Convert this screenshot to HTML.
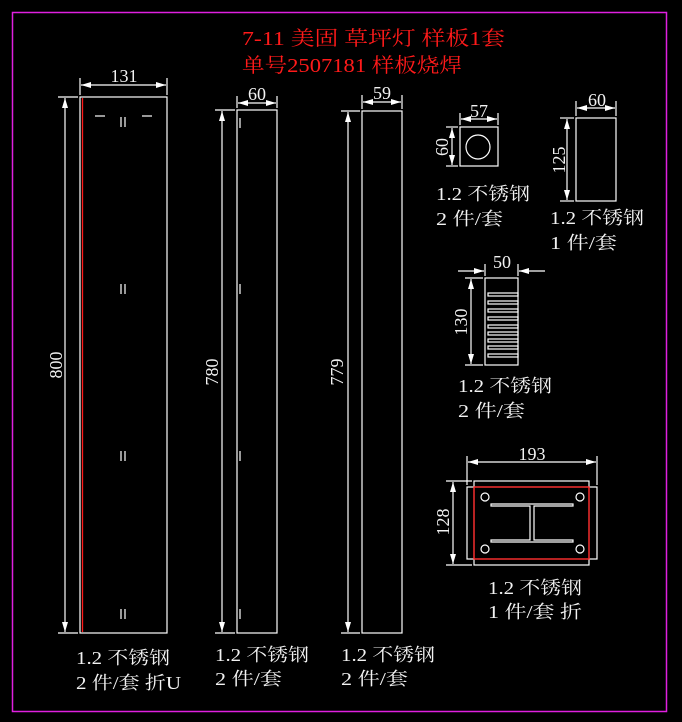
<!DOCTYPE html>
<html><head><meta charset="utf-8"><style>
html,body{margin:0;padding:0;background:#000;}
svg{display:block}
text{font-family:"Liberation Serif","Noto Serif CJK SC",serif;fill:#f2f2f2;font-size:18px}
.r{fill:#ff1a1a;font-size:20px}
</style></head><body>
<svg width="682" height="722" viewBox="0 0 682 722" xmlns="http://www.w3.org/2000/svg">
<defs>
<marker id="a" viewBox="0 0 10 6" refX="10" refY="3" markerWidth="10" markerHeight="6" orient="auto-start-reverse" markerUnits="userSpaceOnUse"><path d="M0,0 L10,3 L0,6z" fill="#fff"/></marker>
</defs>
<rect x="12.5" y="12.5" width="654" height="699" fill="none" stroke="#e020e0" stroke-width="1.5"/>
<text class="r" x="242" y="45" textLength="263" lengthAdjust="spacingAndGlyphs">7-11 美固 草坪灯 样板1套</text>
<text class="r" x="242" y="72" textLength="220" lengthAdjust="spacingAndGlyphs">单号2507181 样板烧焊</text>
<g stroke="#fff" stroke-width="1.2" fill="none">
<rect x="80" y="97" width="87" height="536"/>
<line x1="80" y1="78" x2="80" y2="95"/><line x1="167" y1="78" x2="167" y2="95"/>
<line x1="81" y1="85" x2="166" y2="85" marker-start="url(#a)" marker-end="url(#a)"/>
<line x1="58" y1="97" x2="78" y2="97"/><line x1="58" y1="633" x2="78" y2="633"/>
<line x1="65" y1="98" x2="65" y2="632" marker-start="url(#a)" marker-end="url(#a)"/>
<line x1="95" y1="116" x2="105" y2="116"/><line x1="142" y1="116" x2="152" y2="116"/>
<path d="M121 117v10M125 117v10M121 284v10M125 284v10M121 451v10M125 451v10M121 609v10M125 609v10"/>
<rect x="237" y="110" width="40" height="523"/>
<line x1="237" y1="96" x2="237" y2="108"/><line x1="277" y1="96" x2="277" y2="108"/>
<line x1="238" y1="103" x2="276" y2="103" marker-start="url(#a)" marker-end="url(#a)"/>
<line x1="215" y1="110" x2="235" y2="110"/><line x1="215" y1="633" x2="235" y2="633"/>
<line x1="222" y1="111" x2="222" y2="632" marker-start="url(#a)" marker-end="url(#a)"/>
<path d="M240 118v10M240 284v10M240 451v10M240 609v10"/>
<rect x="362" y="111" width="40" height="522"/>
<line x1="362" y1="95" x2="362" y2="109"/><line x1="402" y1="95" x2="402" y2="109"/>
<line x1="363" y1="102" x2="401" y2="102" marker-start="url(#a)" marker-end="url(#a)"/>
<line x1="341" y1="111" x2="360" y2="111"/><line x1="341" y1="633" x2="360" y2="633"/>
<line x1="348" y1="112" x2="348" y2="632" marker-start="url(#a)" marker-end="url(#a)"/>
<rect x="460" y="127" width="38" height="39"/>
<circle cx="478" cy="147" r="12"/>
<line x1="460" y1="113" x2="460" y2="125"/><line x1="498" y1="113" x2="498" y2="125"/>
<line x1="461" y1="119" x2="497" y2="119" marker-start="url(#a)" marker-end="url(#a)"/>
<line x1="446" y1="127" x2="458" y2="127"/><line x1="446" y1="166" x2="458" y2="166"/>
<line x1="452" y1="128" x2="452" y2="165" marker-start="url(#a)" marker-end="url(#a)"/>
<rect x="576" y="118" width="40" height="83"/>
<line x1="576" y1="101" x2="576" y2="116"/><line x1="616" y1="101" x2="616" y2="116"/>
<line x1="577" y1="108" x2="615" y2="108" marker-start="url(#a)" marker-end="url(#a)"/>
<line x1="560" y1="118" x2="574" y2="118"/><line x1="560" y1="201" x2="574" y2="201"/>
<line x1="567" y1="119" x2="567" y2="200" marker-start="url(#a)" marker-end="url(#a)"/>
<rect x="485" y="278" width="33" height="87"/>
<line x1="485" y1="264" x2="485" y2="276"/><line x1="518" y1="264" x2="518" y2="276"/>
<line x1="458" y1="271" x2="484" y2="271" marker-end="url(#a)"/>
<line x1="545" y1="271" x2="519" y2="271" marker-end="url(#a)"/>
<line x1="465" y1="278" x2="483" y2="278"/><line x1="465" y1="365" x2="483" y2="365"/>
<line x1="471" y1="279" x2="471" y2="364" marker-start="url(#a)" marker-end="url(#a)"/>
<rect x="488" y="293" width="30" height="3"/><rect x="488" y="301" width="30" height="3"/>
<rect x="488" y="309" width="30" height="3"/><rect x="488" y="317" width="30" height="3"/>
<rect x="488" y="325" width="30" height="3"/><rect x="488" y="332" width="30" height="3"/>
<rect x="488" y="339" width="30" height="3"/><rect x="488" y="346" width="30" height="3"/>
<rect x="488" y="354" width="30" height="3"/>
<rect x="474" y="481" width="115" height="84"/>
<rect x="467" y="487" width="130" height="72"/>
<circle cx="485" cy="497" r="4"/><circle cx="580" cy="497" r="4"/>
<circle cx="485" cy="549" r="4"/><circle cx="580" cy="549" r="4"/>
<path d="M491 504h82v2h-39v34h39v2h-82v-2h39v-34h-39z"/>
<line x1="467" y1="456" x2="467" y2="485"/><line x1="597" y1="456" x2="597" y2="485"/>
<line x1="468" y1="462" x2="596" y2="462" marker-start="url(#a)" marker-end="url(#a)"/>
<line x1="446" y1="481" x2="472" y2="481"/><line x1="446" y1="565" x2="472" y2="565"/>
<line x1="453" y1="482" x2="453" y2="564" marker-start="url(#a)" marker-end="url(#a)"/>
</g>
<g stroke="#ff1a1a" stroke-width="1.3" fill="none">
<line x1="82.5" y1="98" x2="82.5" y2="632"/>
<rect x="474" y="487" width="115" height="72"/>
</g>
<text x="124" y="82" text-anchor="middle">131</text>
<text x="257" y="100" text-anchor="middle">60</text>
<text x="382" y="99" text-anchor="middle">59</text>
<text x="479" y="117" text-anchor="middle">57</text>
<text x="597" y="106" text-anchor="middle">60</text>
<text x="502" y="268" text-anchor="middle">50</text>
<text x="532" y="460" text-anchor="middle">193</text>
<text transform="translate(62,365) rotate(-90)" text-anchor="middle">800</text>
<text transform="translate(218,372) rotate(-90)" text-anchor="middle">780</text>
<text transform="translate(343,372) rotate(-90)" text-anchor="middle">779</text>
<text transform="translate(448,147) rotate(-90)" text-anchor="middle">60</text>
<text transform="translate(565,160) rotate(-90)" text-anchor="middle">125</text>
<text transform="translate(467,322) rotate(-90)" text-anchor="middle">130</text>
<text transform="translate(449,522) rotate(-90)" text-anchor="middle">128</text>
<text x="436" y="200" textLength="94" lengthAdjust="spacingAndGlyphs">1.2 不锈钢</text><text x="436" y="225" textLength="67" lengthAdjust="spacingAndGlyphs">2 件/套</text>
<text x="550" y="224" textLength="94" lengthAdjust="spacingAndGlyphs">1.2 不锈钢</text><text x="550" y="249" textLength="67" lengthAdjust="spacingAndGlyphs">1 件/套</text>
<text x="458" y="392" textLength="94" lengthAdjust="spacingAndGlyphs">1.2 不锈钢</text><text x="458" y="417" textLength="67" lengthAdjust="spacingAndGlyphs">2 件/套</text>
<text x="488" y="594" textLength="94" lengthAdjust="spacingAndGlyphs">1.2 不锈钢</text><text x="488" y="618" textLength="94" lengthAdjust="spacingAndGlyphs">1 件/套 折</text>
<text x="76" y="664" textLength="94" lengthAdjust="spacingAndGlyphs">1.2 不锈钢</text><text x="76" y="689" textLength="105" lengthAdjust="spacingAndGlyphs">2 件/套 折U</text>
<text x="215" y="661" textLength="94" lengthAdjust="spacingAndGlyphs">1.2 不锈钢</text><text x="215" y="685" textLength="67" lengthAdjust="spacingAndGlyphs">2 件/套</text>
<text x="341" y="661" textLength="94" lengthAdjust="spacingAndGlyphs">1.2 不锈钢</text><text x="341" y="685" textLength="67" lengthAdjust="spacingAndGlyphs">2 件/套</text>
</svg>
</body></html>
